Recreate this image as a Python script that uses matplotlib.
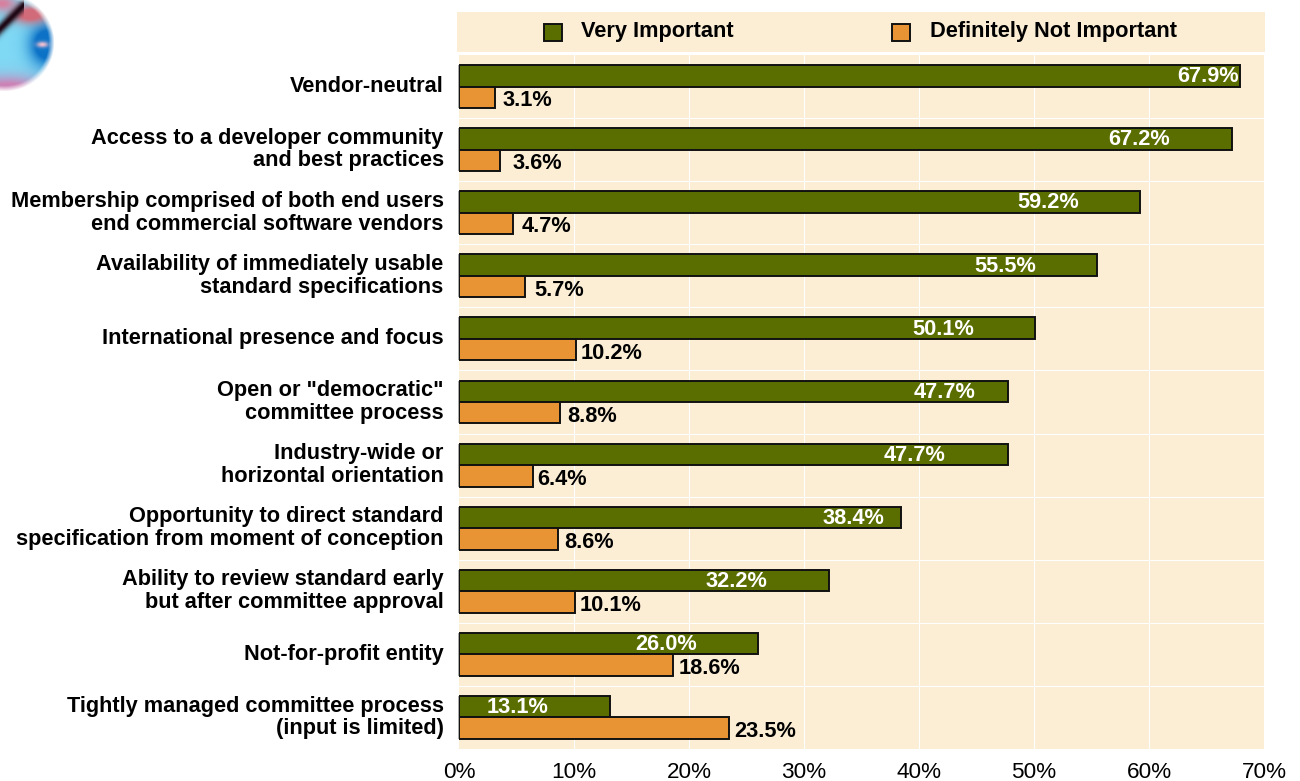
import numpy as np
import matplotlib
matplotlib.use("Agg")
import matplotlib.pyplot as plt
from matplotlib.patches import Rectangle

plt.rcParams['font.family'] = ['Liberation Sans', 'DejaVu Sans']

categories = [
    "Vendor-neutral",
    "Access to a developer community\nand best practices",
    "Membership comprised of both end users\nend commercial software vendors",
    "Availability of immediately usable\nstandard specifications",
    "International presence and focus",
    "Open or \"democratic\"\ncommittee process",
    "Industry-wide or\nhorizontal orientation",
    "Opportunity to direct standard\nspecification from moment of conception",
    "Ability to review standard early\nbut after committee approval",
    "Not-for-profit entity",
    "Tightly managed committee process\n(input is limited)",
]
very_important = [67.9, 67.2, 59.2, 55.5, 50.1, 47.7, 47.7, 38.4, 32.2, 26.0, 13.1]
not_important = [3.1, 3.6, 4.7, 5.7, 10.2, 8.8, 6.4, 8.6, 10.1, 18.6, 23.5]
x_ticks = [0, 10, 20, 30, 40, 50, 60, 70]
series_names = ["Very Important", "Definitely Not Important"]

# label gaps from the bar end, in pixels (as placed in the reference)
green_gap = [-1, -62, -61, -61, -61, -32, -62, -16, -62, -61, -61]
orange_gap = [8, 12, 9, 10, 4, 7, 5, 6, 4, 6, 5]

GREEN, ORANGE, CREAM = '#5a6e00', '#e89434', '#fbeed5'
W, H = 1300, 781
fig = plt.figure(figsize=(W/100, H/100), dpi=100, facecolor='white')
L, R, T, B = 459, 1264, 55, 749
ax = fig.add_axes([L/W, 1-B/H, (R-L)/W, (B-T)/H])
ax.set_facecolor(CREAM)
ax.set_xlim(0, 70)
ax.set_ylim(11, 0)
for s in ax.spines.values():
    s.set_visible(False)
for t in x_ticks[1:-1]:
    ax.axvline(t, color='white', lw=0.8, zorder=1)
for i in range(1, 11):
    ax.axhline(i, color='white', lw=0.8, zorder=1)

n = len(categories)
ys = np.arange(n) + 0.5
h = 0.34
fs = 15.7
ax.barh(ys - h/2, very_important, height=h, color=GREEN, edgecolor='#111111', lw=1.4, zorder=3)
ax.barh(ys + h/2, not_important, height=h, color=ORANGE, edgecolor='#111111', lw=1.4, zorder=3)
ax.vlines(np.zeros(n), ys - h, ys + h, color='#999999', lw=1.2, zorder=2, clip_on=False)

for i in range(n):
    ax.annotate(f"{very_important[i]:.1f}%", (very_important[i], ys[i]-h/2), xytext=(green_gap[i]*0.72, -0.7),
                textcoords='offset points', ha='right', va='center', color='white',
                fontsize=fs, fontweight='bold', zorder=5)
    ax.annotate(f"{not_important[i]:.1f}%", (not_important[i], ys[i]+h/2), xytext=(orange_gap[i]*0.72, -2.5),
                textcoords='offset points', ha='left', va='center', color='black',
                fontsize=fs, fontweight='bold', zorder=5)
    ax.annotate(categories[i], (0, ys[i]), xytext=(-11, 0), textcoords='offset points', ha='right',
                va='center', fontsize=fs, fontweight='bold', linespacing=1.1, color='black',
                annotation_clip=False)

ax.set_yticks([])
ax.set_xticks(x_ticks)
ax.set_xticklabels([f"{t}%" for t in x_ticks], fontsize=16.2)
ax.tick_params(axis='x', length=0, pad=9.5)

# legend band
fig.add_artist(Rectangle((457/W, 1-52/H), 808/W, 40/H, transform=fig.transFigure, fc=CREAM, ec='none'))
for x0, col, name, tx in [(544, GREEN, series_names[0], 581), (892, ORANGE, series_names[1], 930)]:
    fig.add_artist(Rectangle((x0/W, 1-41/H), 18/W, 17/H, transform=fig.transFigure, fc=col, ec='#111111', lw=1.4))
    fig.text(tx/W, 1-31/H, name, ha='left', va='center', fontsize=fs, fontweight='bold')

# decorative disc, top-left corner
logo = fig.add_axes([0, 1-92/H, 60/W, 92/H])
logo.axis('off')
yy, xx = np.mgrid[0:92, 0:60].astype(float)
r = np.hypot(xx-4, (yy-42)/0.98)
alpha = np.clip((50-r)/6, 0, 1)


def blob(cx, cy, sx, sy, col, rgb, gain=1.0):
    w = np.clip(gain*np.exp(-((xx-cx)/sx)**2 - ((yy-cy)/sy)**2), 0, 1)[..., None]
    return (1-w)*rgb + w*np.array(col)


rgb = np.ones((92, 60, 3))*np.array([0.50, 0.85, 0.96])
rgb = blob(46, 44, 16, 20, [0.05, 0.45, 0.78], rgb, 1.6)
rgb = blob(42, 44, 6, 3, [0.95, 0.75, 0.82], rgb)
rgb = blob(30, 14, 18, 9, [0.82, 0.42, 0.48], rgb, 1.3)
rgb = blob(8, 90, 36, 14, [0.80, 0.52, 0.72], rgb, 1.3)
rgb = blob(2, 3, 14, 8, [0.85, 0.50, 0.62], rgb)
d = np.abs((xx + yy - 28)/1.414)
w = (np.exp(-(d/4.5)**2)*(xx < 24))[..., None]
rgb = (1-w)*rgb + w*np.array([0.12, 0.03, 0.08])
logo.imshow(np.dstack([np.clip(rgb, 0, 1), alpha]), aspect='auto', interpolation='bilinear')

fig.savefig('out.png', dpi=100, facecolor='white')
